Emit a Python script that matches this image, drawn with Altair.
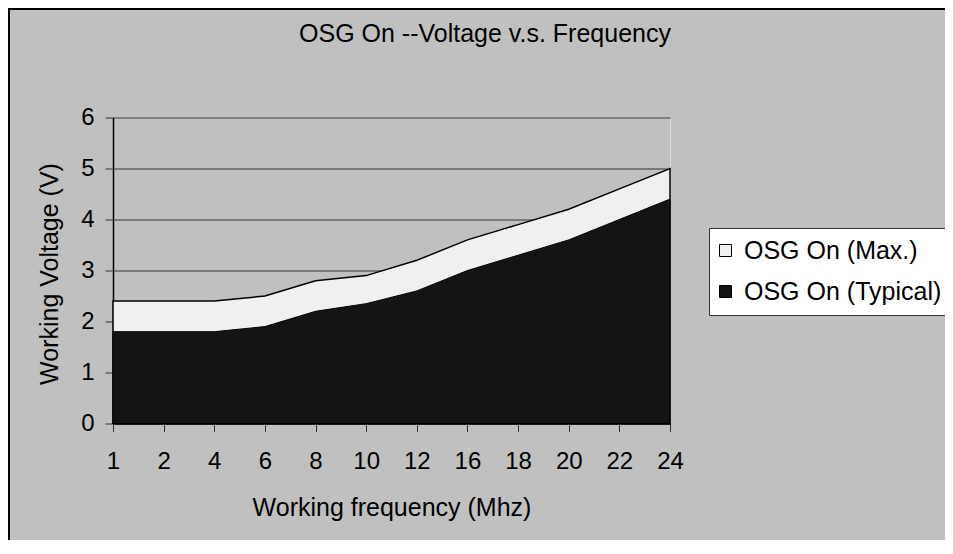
import altair as alt
import pandas as pd

# ---- data ----
freq = ["1", "2", "4", "6", "8", "10", "12", "16", "18", "20", "22", "24"]
v_max = [2.4, 2.4, 2.4, 2.5, 2.8, 2.9, 3.2, 3.6, 3.9, 4.2, 4.6, 5.0]
v_typ = [1.8, 1.8, 1.8, 1.9, 2.2, 2.35, 2.6, 3.0, 3.3, 3.6, 4.0, 4.4]
series = ["OSG On (Max.)", "OSG On (Typical)"]
y_ticks = [0, 1, 2, 3, 4, 5, 6]
TITLE = "OSG On --Voltage v.s. Frequency"
X_TITLE = "Working frequency (Mhz)"
Y_TITLE = "Working Voltage (V)"

rows = []
for f, a, b in zip(freq, v_max, v_typ):
    rows.append({"freq": f, "volt": a, "series": series[0]})
    rows.append({"freq": f, "volt": b, "series": series[1]})
df = pd.DataFrame(rows)

FONT = "Liberation Sans"
W, H = 557, 306
PAD = {"left": 105, "top": 109.5, "right": 275, "bottom": 116.5}

x_enc = alt.X(
    "freq:O",
    sort=freq,
    scale=alt.Scale(padding=0),
    axis=alt.Axis(
        title=X_TITLE, labelAngle=0, tickSize=8, labelPadding=18,
        labelFontSize=24, labelColor="black", labelFont=FONT,
        tickColor="#333333", domainColor="black", domainWidth=1.5,
        titleFontSize=25, titleFont=FONT, titleFontWeight="normal", titleColor="black",
        titleX=W / 2, titleY=91.5, titleAlign="center", titleBaseline="alphabetic",
        grid=False,
    ),
)
y_enc = alt.Y(
    "volt:Q",
    scale=alt.Scale(domain=[0, 6], nice=False),
    axis=alt.Axis(
        title=Y_TITLE, values=y_ticks, tickSize=8, labelPadding=11,
        labelFontSize=24, labelColor="black", labelFont=FONT,
        tickColor="#333333", domainColor="black", domainWidth=1.5,
        grid=True, gridColor="#333333", gridWidth=1,
        titleFontSize=25, titleFont=FONT, titleFontWeight="normal", titleColor="black",
        titleAngle=-90, titleX=-64, titleY=156, titleAlign="center", titleBaseline="middle",
    ),
)
color_enc = alt.Color(
    "series:N",
    scale=alt.Scale(domain=series, range=["#f0f0f0", "#141414"]),
    legend=alt.Legend(
        title=None, orient="none", legendX=596, legendY=110.5,
        fillColor="white", strokeColor="#333333", padding=10,
        symbolType="square", symbolSize=144, symbolStrokeColor="black",
        symbolStrokeWidth=1, symbolOpacity=1, symbolOffset=-6,
        labelFontSize=25, labelFont=FONT, labelColor="black", labelLimit=500,
        labelOffset=6, rowPadding=15,
    ),
)

base = alt.Chart(df)
area_max = base.transform_filter(alt.datum.series == series[0]).mark_area(
    stroke="black", strokeWidth=1.5, opacity=1
).encode(x=x_enc, y=y_enc, color=color_enc)
area_typ = base.transform_filter(alt.datum.series == series[1]).mark_area(
    stroke="black", strokeWidth=1, opacity=1
).encode(x=x_enc, y=y_enc, color=color_enc)

one = pd.DataFrame({"k": [0]})
title_txt = alt.Chart(one).mark_text(
    text=TITLE, font=FONT, fontSize=25, color="black",
    align="center", baseline="alphabetic",
).encode(x=alt.value(372), y=alt.value(-75.8))

border_left = alt.Chart(one).mark_rule(color="black", strokeWidth=2).encode(
    x=alt.value(-PAD["left"] + 1), y=alt.value(-PAD["top"]), y2=alt.value(H + PAD["bottom"])
)
border_top = alt.Chart(one).mark_rule(color="black", strokeWidth=2).encode(
    y=alt.value(-PAD["top"] + 1), x=alt.value(-PAD["left"]), x2=alt.value(W + PAD["right"])
)

chart = alt.layer(area_max, area_typ, title_txt, border_left, border_top).properties(
    width=W, height=H,
    autosize=alt.AutoSizeParams(type="none"),
    padding=PAD,
    background="#c0c0c0",
).configure_view(
    fill="white", stroke="#808080", strokeWidth=2
).configure(font=FONT)

chart.save("out.html", embed_options={"renderer": "svg", "actions": False})
